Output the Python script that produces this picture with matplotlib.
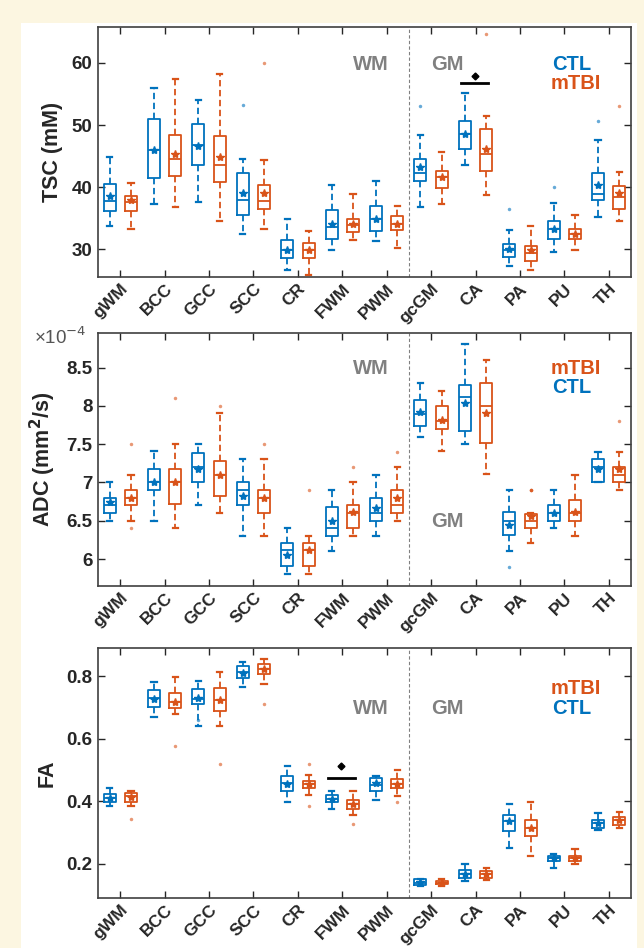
import matplotlib
matplotlib.use('Agg')
import matplotlib.pyplot as plt
from matplotlib.patches import Rectangle
from matplotlib.transforms import ScaledTranslation

plt.rcParams['font.family'] = ['Liberation Sans', 'DejaVu Sans']

regions = ['gWM', 'BCC', 'GCC', 'SCC', 'CR', 'FWM', 'PWM', 'gcGM', 'CA', 'PA', 'PU', 'TH']

# each box: (whisker low, q1, median, q3, whisker high, mean)
tsc_ctl = [(33.7, 36.2, 37.7, 40.5, 44.9, 38.5), (37.2, 41.4, 46.0, 50.9, 55.9, 45.9),
           (37.6, 43.5, 46.7, 50.2, 54.0, 46.6), (32.5, 35.5, 37.9, 42.2, 44.5, 39.0),
           (26.7, 28.5, 29.9, 31.5, 34.8, 29.9), (29.8, 31.7, 33.6, 36.3, 40.4, 34.1),
           (31.3, 32.9, 34.8, 37.0, 40.9, 34.8), (36.8, 40.9, 42.2, 44.5, 48.4, 43.3),
           (43.6, 46.1, 48.5, 50.6, 55.1, 48.5), (27.2, 28.7, 29.9, 30.8, 33.1, 30.0),
           (29.6, 31.7, 33.2, 34.5, 37.4, 33.2), (35.1, 37.9, 38.9, 42.2, 47.6, 40.4)]
tsc_mtbi = [(33.3, 36.1, 37.6, 38.5, 40.6, 37.9), (36.8, 41.8, 44.5, 48.4, 57.5, 45.4),
            (34.5, 40.8, 43.5, 48.3, 58.2, 44.9), (33.2, 36.5, 37.8, 40.3, 44.3, 39.0),
            (25.9, 28.5, 29.9, 31.0, 32.9, 29.9), (31.4, 32.7, 33.9, 34.8, 38.9, 34.0),
            (30.2, 33.0, 34.1, 35.4, 36.9, 34.1), (37.3, 39.9, 41.6, 42.6, 45.7, 41.6),
            (38.8, 42.6, 45.3, 49.3, 51.5, 46.1), (26.7, 28.0, 29.4, 30.5, 33.8, 29.8),
            (29.9, 31.7, 32.4, 33.2, 35.5, 32.4), (34.6, 36.5, 38.4, 40.1, 42.4, 39.0)]
tsc_ctl_out = [[], [], [], [53.3], [], [], [], [53.0], [], [36.4], [40.0], [50.6]]
tsc_mtbi_out = [[], [], [], [60.0], [], [], [], [], [64.7], [], [], [53.0]]

# ADC in units of 1e-4 mm^2/s
adc_ctl = [(6.50, 6.60, 6.71, 6.80, 7.00, 6.74), (6.50, 6.90, 7.01, 7.18, 7.41, 7.01),
           (6.71, 7.00, 7.20, 7.39, 7.50, 7.17), (6.30, 6.70, 6.90, 7.00, 7.31, 6.82),
           (5.80, 5.91, 6.12, 6.21, 6.40, 6.05), (6.10, 6.30, 6.40, 6.68, 6.90, 6.50),
           (6.30, 6.50, 6.60, 6.80, 7.10, 6.67), (7.60, 7.74, 7.90, 8.07, 8.30, 7.92),
           (7.50, 7.67, 8.11, 8.27, 8.81, 8.04), (6.11, 6.31, 6.50, 6.61, 6.90, 6.45),
           (6.40, 6.50, 6.60, 6.71, 6.90, 6.60), (7.00, 7.00, 7.20, 7.30, 7.40, 7.17)]
adc_mtbi = [(6.50, 6.70, 6.80, 6.90, 7.10, 6.80), (6.40, 6.72, 7.00, 7.18, 7.50, 7.00),
            (6.60, 6.83, 7.10, 7.28, 7.91, 7.10), (6.30, 6.60, 6.80, 6.90, 7.31, 6.80),
            (5.80, 5.91, 6.12, 6.21, 6.30, 6.12), (6.30, 6.40, 6.60, 6.70, 7.00, 6.61),
            (6.50, 6.60, 6.70, 6.90, 7.20, 6.80), (7.41, 7.70, 7.80, 8.00, 8.20, 7.81),
            (7.11, 7.52, 8.00, 8.30, 8.60, 7.91), (6.21, 6.40, 6.50, 6.59, 6.60, 6.56),
            (6.30, 6.50, 6.60, 6.77, 7.10, 6.61), (6.90, 7.00, 7.10, 7.20, 7.40, 7.17)]
adc_ctl_out = [[], [], [], [], [], [], [], [], [], [5.90], [], []]
adc_mtbi_out = [[7.5, 6.4], [8.1], [8.0], [7.5], [6.9], [7.2], [7.4], [], [], [6.9, 6.9, 6.9], [], [7.8]]

fa_ctl = [(0.386, 0.396, 0.410, 0.424, 0.442, 0.410), (0.668, 0.700, 0.729, 0.755, 0.782, 0.727),
          (0.641, 0.711, 0.726, 0.759, 0.784, 0.730), (0.764, 0.793, 0.814, 0.833, 0.846, 0.811),
          (0.397, 0.431, 0.458, 0.479, 0.514, 0.455), (0.375, 0.396, 0.407, 0.421, 0.431, 0.407),
          (0.405, 0.431, 0.453, 0.474, 0.481, 0.458), (0.129, 0.132, 0.139, 0.150, 0.152, 0.141),
          (0.145, 0.155, 0.166, 0.179, 0.200, 0.168), (0.251, 0.304, 0.336, 0.357, 0.391, 0.336),
          (0.187, 0.208, 0.217, 0.224, 0.232, 0.217), (0.309, 0.315, 0.331, 0.341, 0.362, 0.331)]
fa_mtbi = [(0.384, 0.396, 0.415, 0.426, 0.434, 0.413), (0.679, 0.697, 0.718, 0.745, 0.796, 0.718),
           (0.641, 0.690, 0.724, 0.761, 0.814, 0.724), (0.775, 0.806, 0.824, 0.840, 0.856, 0.822),
           (0.419, 0.442, 0.455, 0.465, 0.484, 0.455), (0.357, 0.375, 0.391, 0.405, 0.434, 0.391),
           (0.418, 0.442, 0.456, 0.471, 0.500, 0.456), (0.129, 0.134, 0.139, 0.145, 0.150, 0.139),
           (0.148, 0.155, 0.166, 0.177, 0.187, 0.167), (0.226, 0.288, 0.315, 0.341, 0.396, 0.315),
           (0.200, 0.208, 0.219, 0.226, 0.246, 0.219), (0.315, 0.325, 0.339, 0.350, 0.364, 0.339)]
fa_ctl_out = [[], [], [0.66], [], [], [], [], [], [], [], [], []]
fa_mtbi_out = [[0.344], [0.577], [0.520], [0.710], [0.520, 0.384], [0.328], [0.396], [], [], [], [], []]

BLUE = '#0072BD'
RED = '#D95319'
DARK = '#262626'
GRAY = '#808080'


def draw_panel(ax, ctl, mtbi, ctl_out, mtbi_out, ylim, yticks, ytlabels, ylabel):
    for stats, outs, color, off in [(ctl, ctl_out, BLUE, -0.24), (mtbi, mtbi_out, RED, 0.24)]:
        bx = [dict(whislo=s[0], q1=s[1], med=s[2], q3=s[3], whishi=s[4], mean=s[5], fliers=o)
              for s, o in zip(stats, outs)]
        pos = [i + 1 + off for i in range(len(regions))]
        ax.bxp(bx, positions=pos, widths=0.27, capwidths=0.12, showmeans=True, showfliers=True,
               manage_ticks=False,
               boxprops=dict(color=color, lw=1.3),
               whiskerprops=dict(color=color, lw=1.3, ls=(0, (3.5, 2))),
               capprops=dict(color=color, lw=1.6),
               medianprops=dict(color=color, lw=1.3),
               meanprops=dict(marker='*', mfc=color, mec=color, ms=6),
               flierprops=dict(marker='o', ms=2.5, mfc=color, mec='none', alpha=0.6))
    ax.axvline(7.5, color=GRAY, lw=0.8, ls=(0, (3, 2)))
    ax.set_xlim(0.5, 12.5)
    ax.set_ylim(*ylim)
    ax.set_xticks(range(1, 13))
    ax.set_xticklabels(regions, rotation=45, ha='right', rotation_mode='anchor',
                       fontsize=12.5, fontweight='bold', color=DARK)
    shift = ScaledTranslation(0.05, 0, ax.figure.dpi_scale_trans)
    for t in ax.get_xticklabels():
        t.set_transform(t.get_transform() + shift)
    ax.set_yticks(yticks)
    ax.set_yticklabels(ytlabels, fontsize=13.5, fontweight='bold', color=DARK)
    ax.set_ylabel(ylabel, fontsize=15.5, fontweight='bold', color=DARK, labelpad=6)
    ax.tick_params(axis='y', direction='in', length=5, width=1, right=True, color=DARK, pad=4)
    ax.tick_params(axis='x', direction='in', length=5, width=1, top=True, color=DARK, pad=3)
    for sp in ax.spines.values():
        sp.set_color('#404040')
        sp.set_linewidth(1.2)


fig = plt.figure(figsize=(6.44, 9.48), dpi=100)
fig.patch.set_facecolor('#FCF6E1')
fig.add_artist(Rectangle((21 / 644, 0), 616 / 644, 925 / 948, transform=fig.transFigure,
                         fc='white', ec='none', zorder=0))

left, width = 0.1522, 0.8276
ax1 = fig.add_axes([left, 0.7078, width, 0.2637])
ax2 = fig.add_axes([left, 0.3819, width, 0.2668])
ax3 = fig.add_axes([left, 0.0527, width, 0.2637])

draw_panel(ax1, tsc_ctl, tsc_mtbi, tsc_ctl_out, tsc_mtbi_out, (25.5, 65.8),
           [30, 40, 50, 60], ['30', '40', '50', '60'], 'TSC (mM)')
draw_panel(ax2, adc_ctl, adc_mtbi, adc_ctl_out, adc_mtbi_out, (5.65, 8.95),
           [6, 6.5, 7, 7.5, 8, 8.5], ['6', '6.5', '7', '7.5', '8', '8.5'], 'ADC (mm$^\\mathbf{2}$/s)')
draw_panel(ax3, fa_ctl, fa_mtbi, fa_ctl_out, fa_mtbi_out, (0.09, 0.89),
           [0.2, 0.4, 0.6, 0.8], ['0.2', '0.4', '0.6', '0.8'], 'FA')

ax2.text(-0.12, 0.985, '×10$^{-4}$', transform=ax2.transAxes, fontsize=13.5, color='#555555',
         ha='left', va='center')

# region / group labels
lab = dict(fontsize=14.5, fontweight='bold', ha='center', va='center')
ax1.text(0.512, 0.852, 'WM', color=GRAY, transform=ax1.transAxes, **lab)
ax1.text(0.655, 0.852, 'GM', color=GRAY, transform=ax1.transAxes, **lab)
ax1.text(0.888, 0.852, 'CTL', color=BLUE, transform=ax1.transAxes, **lab)
ax1.text(0.897, 0.776, 'mTBI', color=RED, transform=ax1.transAxes, **lab)

ax2.text(0.512, 0.858, 'WM', color=GRAY, transform=ax2.transAxes, **lab)
ax2.text(0.655, 0.253, 'GM', color=GRAY, transform=ax2.transAxes, **lab)
ax2.text(0.897, 0.858, 'mTBI', color=RED, transform=ax2.transAxes, **lab)
ax2.text(0.888, 0.783, 'CTL', color=BLUE, transform=ax2.transAxes, **lab)

ax3.text(0.512, 0.76, 'WM', color=GRAY, transform=ax3.transAxes, **lab)
ax3.text(0.655, 0.76, 'GM', color=GRAY, transform=ax3.transAxes, **lab)
ax3.text(0.897, 0.84, 'mTBI', color=RED, transform=ax3.transAxes, **lab)
ax3.text(0.888, 0.76, 'CTL', color=BLUE, transform=ax3.transAxes, **lab)

# significance markers
ax1.plot([8.68, 9.28], [56.7, 56.7], color='k', lw=2)
ax1.plot(8.98, 57.9, marker='D', color='k', ms=3.5)
ax3.plot([5.68, 6.28], [0.475, 0.475], color='k', lw=2)
ax3.plot(5.98, 0.513, marker='D', color='k', ms=3.5)

fig.savefig('out.png', dpi=100, facecolor=fig.get_facecolor())
